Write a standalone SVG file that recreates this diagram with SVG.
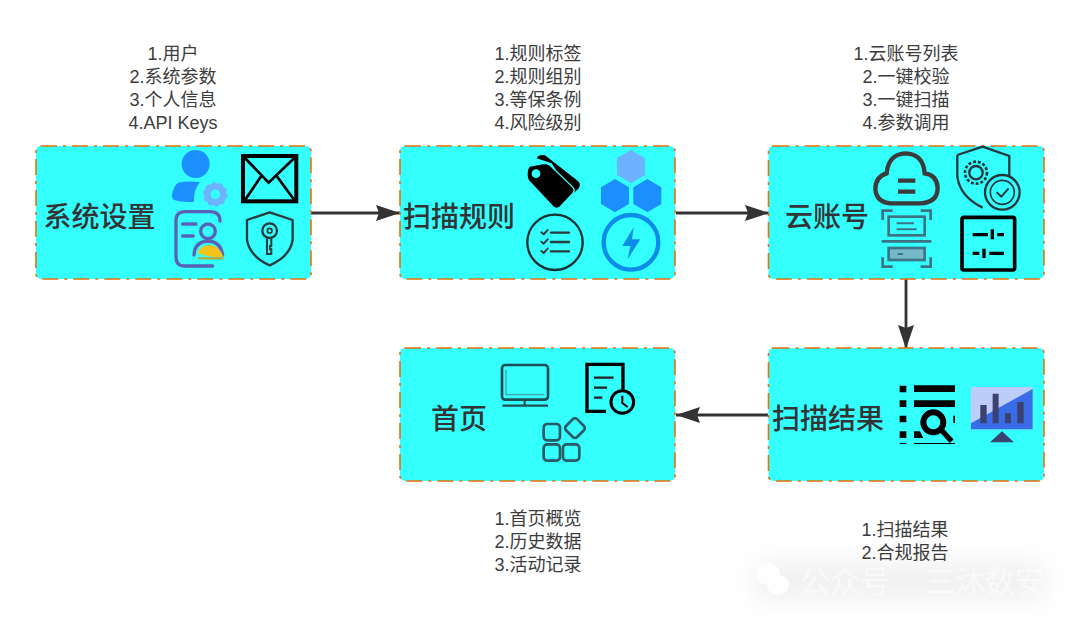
<svg xmlns="http://www.w3.org/2000/svg" width="1080" height="625" viewBox="0 0 1080 625">
<style>
.box{fill:#33ffff;stroke:#e6720a;stroke-width:1.6;stroke-dasharray:16 6 3 6}
.ttl{font-family:"Liberation Sans","Noto Sans CJK SC",sans-serif;font-size:28px;font-weight:500;fill:#333;text-anchor:middle}
.lbl{font-family:"Liberation Sans","Noto Sans CJK SC",sans-serif;font-size:18px;fill:#3c3c3c;text-anchor:middle}
.conn{fill:none;stroke:#333;stroke-width:2.8}
.wm{font-family:"Liberation Sans","Noto Sans CJK SC",sans-serif;font-size:30px;fill:#fff;opacity:.55}
.d{fill:none;stroke:#2b3a3a;stroke-linecap:round;stroke-linejoin:round}
</style>
<defs>
<marker id="arr" markerUnits="userSpaceOnUse" markerWidth="26" markerHeight="18" refX="24" refY="9" orient="auto"><path d="M0 1L24 9L0 17L3 9Z" fill="#333"/></marker>
<filter id="bl" x="-20%" y="-60%" width="140%" height="220%"><feGaussianBlur stdDeviation="14"/></filter>
<filter id="sf" x="-5%" y="-5%" width="110%" height="110%"><feGaussianBlur stdDeviation=".45"/></filter>
</defs>
<rect width="1080" height="625" fill="#fff"/>
<g id="connectors">
<path class="conn" d="M311 213H400" marker-end="url(#arr)"/>
<path class="conn" d="M676 213H769" marker-end="url(#arr)"/>
<path class="conn" d="M906 279V349" marker-end="url(#arr)"/>
<path class="conn" d="M768 415H676" marker-end="url(#arr)"/>
</g>
<g id="node-settings">
<rect class="box" x="36" y="146" width="275" height="133" rx="5"/>
<text class="ttl" x="99.500" y="227">系统设置</text>
<g transform="translate(30 140) scale(.3333)" filter="url(#sf)">
<circle cx="497" cy="72" r="42" fill="#1e8fff"/>
<path d="M445 128Q470 122 510 126Q490 150 492 185Q460 188 432 180Q420 172 430 150Q435 134 445 128Z" fill="#1e8fff"/>
<circle cx="556" cy="163" r="24" fill="none" stroke="#6cb2ff" stroke-width="19"/>
<circle cx="556" cy="163" r="33" fill="none" stroke="#6cb2ff" stroke-width="8" stroke-dasharray="11 9.700"/>
<rect x="639" y="48" width="160" height="136" fill="none" stroke="#000" stroke-width="12"/>
<path d="M645 54L716 128L793 54M645 180L694 108M793 180L740 108" fill="none" stroke="#000" stroke-width="8"/>
<g fill="none" stroke="#5a62b8" stroke-width="10" stroke-linecap="round">
<path d="M570 243Q570 215 540 215H465Q438 215 438 242V350Q438 378 465 378H548"/>
<path d="M458 252H498M458 288H490"/>
<circle cx="534" cy="274" r="22"/>
<path d="M492 345Q494 305 534 303Q572 305 578 345"/>
</g>
<path d="M503 340Q510 315 540 315Q570 318 580 350Q540 354 503 340Z" fill="#f2c31e"/>
<path d="M505 355H580" stroke="#b8a83a" stroke-width="7"/>
<path d="M719 217L788 240V300Q780 350 719 376Q660 350 651 300V240Z" fill="none" stroke="#2b3a3a" stroke-width="7" stroke-linejoin="round"/>
<circle cx="719" cy="272" r="22" fill="none" stroke="#2b3a3a" stroke-width="7"/>
<circle cx="719" cy="272" r="7" fill="none" stroke="#2b3a3a" stroke-width="5"/>
<path d="M711 295V342H724V328H720V318H724V295" fill="none" stroke="#2b3a3a" stroke-width="6"/>
</g>
</g>
<g id="node-rules">
<rect class="box" x="400" y="146" width="275" height="133" rx="5"/>
<text class="ttl" x="459" y="227">扫描规则</text>
<g transform="translate(395 140) scale(.3333)" filter="url(#sf)">
<path d="M425 55Q432 42 450 46L545 120Q562 132 550 146L530 165L470 70Z" fill="#000"/>
<path d="M404 78L448 70Q458 70 465 76L534 142Q542 152 532 162L496 200Q485 210 474 200L408 130Q396 120 396 105Q396 85 404 78Z" fill="#000" stroke="#33ffff" stroke-width="4"/>
<circle cx="423" cy="101" r="13" fill="#33ffff"/>
<path d="M708 30L750 55V105L708 130L666 105V55Z" fill="#6cb2ff"/>
<path d="M660 117L702 142V192L660 217L618 192V142Z" fill="#1e8fff"/>
<path d="M757 117L799 142V192L757 217L715 192V142Z" fill="#1e8fff"/>
<circle cx="480" cy="307" r="83" fill="none" stroke="#17302f" stroke-width="7"/>
<path d="M468 278H522M468 306H522M468 334H522" class="d" stroke-width="7"/>
<path d="M439 277L446 283L458 270M439 305L446 311L458 298M439 333L446 339L458 326" class="d" stroke-width="6"/>
<circle cx="708" cy="307" r="82" fill="none" stroke="#0a8ce8" stroke-width="13"/>
<path d="M716 262L682 318H706L698 358L736 298H711Z" fill="#0a8ce8"/>
</g>
</g>
<g id="node-cloud">
<rect class="box" x="768.500" y="146" width="275.500" height="133" rx="5"/>
<text class="ttl" x="827" y="227">云账号</text>
<g transform="translate(760 140) scale(.3333)" filter="url(#sf)">
<path d="M392 190H480Q532 188 533 145Q532 105 494 100Q490 42 437 40Q385 42 380 100Q346 110 346 148Q350 188 392 190Z" fill="none" stroke="#3a3a3a" stroke-width="13"/>
<path d="M414 122H466M414 155H466" stroke="#3a3a3a" stroke-width="13" fill="none"/>
<g fill="none" stroke="#3d7382" stroke-width="8">
<path d="M368 240V212H398M482 212H512V240M368 352V380H398M482 380H512V352M365 304H514"/>
<rect x="386" y="230" width="108" height="56"/>
<path d="M410 250H462M410 268H470" stroke-width="6"/>
<rect x="386" y="324" width="108" height="36" fill="#75b9c9"/>
<path d="M413 342H429" stroke-width="6"/>
</g>
<path d="M668 20L748 48V105Q748 120 742 133M592 45L668 20M592 45V110Q600 170 668 203" fill="none" stroke="#28383c" stroke-width="7"/>
<circle cx="648" cy="98" r="20" fill="none" stroke="#28383c" stroke-width="7"/>
<circle cx="648" cy="98" r="33" fill="none" stroke="#28383c" stroke-width="8" stroke-dasharray="9 5.550"/>
<circle cx="727" cy="157" r="52" fill="#33ffff" stroke="#28383c" stroke-width="7"/>
<circle cx="727" cy="157" r="36" fill="none" stroke="#28383c" stroke-width="5"/>
<path d="M710 157L724 170L746 145" fill="none" stroke="#28383c" stroke-width="6"/>
<rect x="606" y="232" width="158" height="158" rx="6" fill="none" stroke="#000" stroke-width="11"/>
<path d="M638 284H684M712 284H732M638 340H658M688 340H732" stroke="#000" stroke-width="10" fill="none"/>
<path d="M697 268V298M672 326V354" stroke="#000" stroke-width="10" fill="none"/>
</g>
</g>
<g id="node-home">
<rect class="box" x="400" y="348" width="275" height="133" rx="5"/>
<text class="ttl" x="459" y="429">首页</text>
<g transform="translate(395 343) scale(.3333)" filter="url(#sf)">
<rect x="321" y="66" width="138" height="104" rx="10" fill="none" stroke="#1f4f55" stroke-width="8"/>
<path d="M333 80V155H447" fill="none" stroke="#4aa0a8" stroke-width="4"/>
<path d="M389 170V188M322 188H459" stroke="#1f4f55" stroke-width="7" fill="none"/>
<path d="M633 205H576V64H684V140" fill="none" stroke="#000" stroke-width="10"/>
<path d="M597 104H656M597 134H636M597 164H622" stroke="#222" stroke-width="7" fill="none"/>
<circle cx="682" cy="177" r="34" fill="#33ffff" stroke="#000" stroke-width="9"/>
<path d="M682 158V180L698 192" stroke="#000" stroke-width="6" fill="none"/>
<g fill="none" stroke="#2a5a62" stroke-width="8">
<rect x="446" y="243" width="49" height="49" rx="11"/>
<rect x="446" y="304" width="49" height="49" rx="11"/>
<rect x="504" y="304" width="49" height="49" rx="11"/>
<rect x="516" y="232" width="47" height="47" rx="9" transform="rotate(45 540 256)"/>
</g>
</g>
</g>
<g id="node-results">
<rect class="box" x="768.500" y="348" width="275.500" height="133" rx="5"/>
<text class="ttl" x="828" y="429">扫描结果</text>
<g transform="translate(760 343) scale(.3333)" filter="url(#sf)">
<path d="M419 128H439V148H419ZM419 172H439V192H419ZM419 218H439V238H419ZM419 265H439V285H419ZM419 300H439V303H419ZM462 127H585V147H462ZM462 172H585V192H462ZM462 265H480L490 285H462ZM462 300H585V303H462ZM580 218H585V240H580Z" fill="#000"/>
<circle cx="520" cy="238" r="30" fill="none" stroke="#000" stroke-width="18"/>
<path d="M545 262L575 295" stroke="#000" stroke-width="16" fill="none"/>
<rect x="633" y="132" width="185" height="127" fill="#bccdf7"/>
<path d="M633 259V241L818 138V259Z" fill="#3a6ce8"/>
<path d="M661 186H680V241H661ZM698 152H716V241H698ZM735 211H753V241H735ZM772 177H791V241H772Z" fill="#3a4272"/>
<path d="M690 298L726 265L762 298Z" fill="#3a4272"/>
</g>
</g>
<g id="labels">
<text class="lbl" x="173" y="60">1.用户</text>
<text class="lbl" x="173" y="83">2.系统参数</text>
<text class="lbl" x="173" y="106">3.个人信息</text>
<text class="lbl" x="173" y="129">4.API Keys</text>
<text class="lbl" x="538" y="60">1.规则标签</text>
<text class="lbl" x="538" y="83">2.规则组别</text>
<text class="lbl" x="538" y="106">3.等保条例</text>
<text class="lbl" x="538" y="129">4.风险级别</text>
<text class="lbl" x="906" y="60">1.云账号列表</text>
<text class="lbl" x="906" y="83">2.一键校验</text>
<text class="lbl" x="906" y="106">3.一键扫描</text>
<text class="lbl" x="906" y="129">4.参数调用</text>
<text class="lbl" x="538" y="525">1.首页概览</text>
<text class="lbl" x="538" y="548">2.历史数据</text>
<text class="lbl" x="538" y="571">3.活动记录</text>
<text class="lbl" x="905" y="536">1.扫描结果</text>
<text class="lbl" x="905" y="559">2.合规报告</text>
</g>
<g id="watermark">
<rect x="755" y="562" width="290" height="38" fill="#000" opacity=".06" filter="url(#bl)"/>
<ellipse cx="768" cy="574" rx="12" ry="11" fill="#fff" opacity=".85"/>
<ellipse cx="778" cy="585" rx="11" ry="10" fill="#fff" opacity=".9"/>
<text class="wm" x="800" y="592">公众号</text>
<text class="wm" x="925" y="592">三沐数安</text>
</g>
</svg>
